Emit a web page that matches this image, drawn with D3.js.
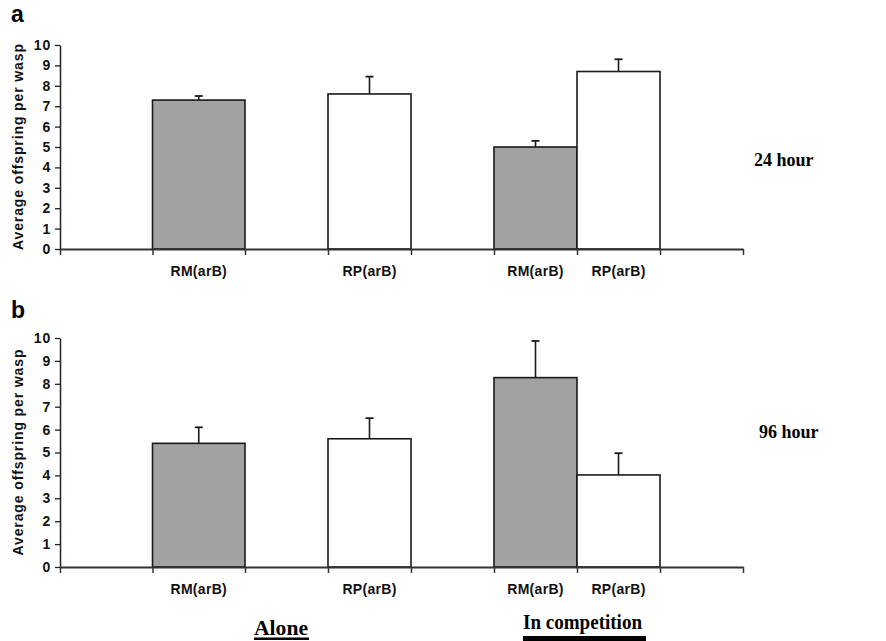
<!DOCTYPE html>
<html>
<head>
<meta charset="utf-8">
<script src="https://cdn.jsdelivr.net/npm/d3@7"></script>
<style>
  body { margin: 0; background: #fff; }
  svg { display: block; }
  .tick text { font-family: "Liberation Sans", Arial, sans-serif; font-weight: bold; font-size: 14px; fill: #111; }
</style>
</head>
<body>
<svg id="chart"></svg>
<script>
// slots along the x axis: empty slots are gaps between bar groups
const slotCount = 8;
const barSlots = [1, 3, 5, 6];
const barLabels = ["RM(arB)", "RP(arB)", "RM(arB)", "RP(arB)"];
const strains = ["RM", "RP", "RM", "RP"];
const yTicks = [0, 1, 2, 3, 4, 5, 6, 7, 8, 9, 10];

const means24 = [7.3, 7.6, 5.0, 8.7];
const errors24 = [0.2, 0.85, 0.3, 0.6];
const means96 = [5.4, 5.6, 8.27, 4.02];
const errors96 = [0.7, 0.9, 1.6, 0.95];

const panelLetters = ["a", "b"];
const timeLabels = ["24 hour", "96 hour"];
const groupLabels = ["Alone", "In competition"];
const yLabel = "Average offspring per wasp";

const width = 886, height = 641;
const axisLeft = 60, axisRight = 743;
const fills = { RM: "#a2a2a2", RP: "#ffffff" };

const svg = d3.select("#chart").attr("width", width).attr("height", height);
svg.append("rect").attr("width", width).attr("height", height).attr("fill", "#fff");

// first two slots are a bit wider than the rest in the original
const x = d3.scaleLinear().domain([0, 2, slotCount]).range([axisLeft, 245, axisRight]);

const panels = [
  { letter: panelLetters[0], time: timeLabels[0], means: means24, errors: errors24, top: 45, bottom: 249, letterY: 22, timeX: 754, timeY: 166 },
  { letter: panelLetters[1], time: timeLabels[1], means: means96, errors: errors96, top: 338, bottom: 567, letterY: 318, timeX: 759, timeY: 438 }
];

panels.forEach(p => {
  const y = d3.scaleLinear().domain([0, 10]).range([p.bottom, p.top]);
  const g = svg.append("g");

  // bars
  g.selectAll("rect.bar")
    .data(p.means)
    .join("rect")
    .attr("class", "bar")
    .attr("x", (d, i) => x(barSlots[i]))
    .attr("width", (d, i) => x(barSlots[i] + 1) - x(barSlots[i]))
    .attr("y", d => y(d))
    .attr("height", d => y(0) - y(d))
    .attr("fill", (d, i) => fills[strains[i]])
    .attr("stroke", "#1a1a1a")
    .attr("stroke-width", 1.6);

  // upper error bars
  const err = g.selectAll("g.err")
    .data(p.means)
    .join("g")
    .attr("class", "err")
    .attr("transform", (d, i) => `translate(${(x(barSlots[i]) + x(barSlots[i] + 1)) / 2},0)`);
  err.append("line")
    .attr("y1", d => y(d))
    .attr("y2", (d, i) => y(d + p.errors[i]))
    .attr("stroke", "#1a1a1a").attr("stroke-width", 1.6);
  err.append("line")
    .attr("x1", -4).attr("x2", 4)
    .attr("y1", (d, i) => y(d + p.errors[i]))
    .attr("y2", (d, i) => y(d + p.errors[i]))
    .attr("stroke", "#1a1a1a").attr("stroke-width", 1.8);

  // y axis
  const ya = g.append("g")
    .attr("transform", `translate(${axisLeft},0)`)
    .call(d3.axisLeft(y).tickValues(yTicks).tickSize(5).tickSizeOuter(0).tickPadding(4));
  ya.select(".domain").attr("stroke", "#222").attr("stroke-width", 1.5);
  ya.selectAll(".tick line").attr("stroke", "#222").attr("stroke-width", 1.3);
  ya.selectAll(".tick text").attr("letter-spacing", "0.8px");

  // x axis with slot boundary ticks
  const xa = g.append("g")
    .attr("transform", `translate(0,${p.bottom})`)
    .call(d3.axisBottom(x).tickValues(d3.range(0, slotCount + 1)).tickFormat("").tickSize(6).tickSizeOuter(0));
  xa.select(".domain").attr("stroke", "#333").attr("stroke-width", 2.2);
  xa.selectAll(".tick line").attr("stroke", "#333").attr("stroke-width", 1.5);

  // category labels
  g.selectAll("text.cat")
    .data(barLabels)
    .join("text")
    .attr("class", "cat")
    .attr("x", (d, i) => (x(barSlots[i]) + x(barSlots[i] + 1)) / 2)
    .attr("y", p.bottom + 27)
    .attr("text-anchor", "middle")
    .attr("font-family", "'Liberation Sans', Arial, sans-serif")
    .attr("font-weight", "bold")
    .attr("font-size", 14)
    .attr("letter-spacing", "0.3px")
    .attr("fill", "#111")
    .text(d => d);

  // y axis title
  g.append("text")
    .attr("transform", `translate(23,${(p.top + p.bottom) / 2}) rotate(-90)`)
    .attr("text-anchor", "middle")
    .attr("font-family", "'Liberation Sans', Arial, sans-serif")
    .attr("font-weight", "bold")
    .attr("font-size", 14)
    .attr("textLength", 206)
    .attr("lengthAdjust", "spacing")
    .attr("fill", "#111")
    .text(yLabel);

  // panel letter
  g.append("text")
    .attr("x", 11).attr("y", p.letterY)
    .attr("font-family", "'Liberation Sans', Arial, sans-serif")
    .attr("font-weight", "bold")
    .attr("font-size", 23)
    .attr("fill", "#000")
    .text(p.letter);

  // time label
  g.append("text")
    .attr("x", p.timeX).attr("y", p.timeY)
    .attr("font-family", "'Liberation Serif', 'Times New Roman', serif")
    .attr("font-weight", "bold")
    .attr("font-size", 18)
    .attr("fill", "#000")
    .text(p.time);
});

// group labels under the lower panel
const serif = "'Liberation Serif', 'Times New Roman', serif";
svg.append("text")
  .attr("x", 254).attr("y", 635)
  .attr("font-family", serif).attr("font-weight", "bold").attr("font-size", 20)
  .attr("textLength", 54).attr("lengthAdjust", "spacingAndGlyphs")
  .text(groupLabels[0]);
svg.append("rect").attr("x", 254).attr("y", 637.5).attr("width", 55).attr("height", 2.5).attr("fill", "#000");

svg.append("text")
  .attr("x", 523).attr("y", 629)
  .attr("font-family", serif).attr("font-weight", "bold").attr("font-size", 20)
  .attr("textLength", 119).attr("lengthAdjust", "spacingAndGlyphs")
  .text(groupLabels[1]);
svg.append("rect").attr("x", 523).attr("y", 636).attr("width", 123).attr("height", 5).attr("fill", "#000");
</script>
</body>
</html>
